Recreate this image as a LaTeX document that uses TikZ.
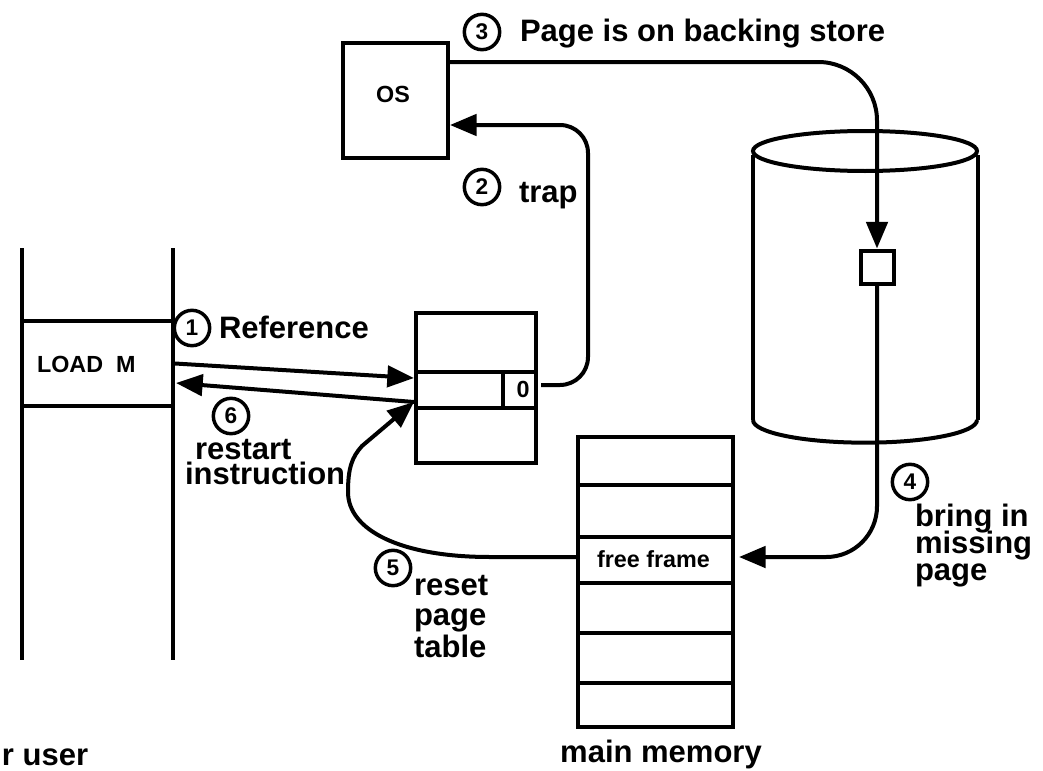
\documentclass[tikz,border=0pt]{standalone}
\usepackage{fontspec}
\setmainfont{Liberation Sans}
\usetikzlibrary{arrows.meta}

\begin{document}
\begin{tikzpicture}[x=0.75pt, y=-0.75pt, line width=3pt,
  big/.style={font=\fontsize{23.25}{24}\selectfont\bfseries, inner sep=0pt},
  small/.style={font=\fontsize{17.5}{18}\selectfont\bfseries, inner sep=0pt},
  num/.style={circle, draw, line width=2.6pt, minimum size=26.5pt, inner sep=0pt,
              font=\fontsize{17}{17}\selectfont\bfseries},
  box/.style={draw, rectangle, inner sep=0pt},
  flow/.style={-{Triangle[length=20pt, width=16pt]}}
]
\useasboundingbox (0,0) rectangle (1043,771);

% program for the user, with the LOAD instruction
\draw (22,248) -- (22,660);
\draw (173,248) -- (173,660);
\node[box, minimum width=113.25pt, minimum height=63.75pt] (load) at (97.5,363.5) {};
\node[small, anchor=base west] (loadtxt) at (35,372) {LOAD\ \ M};
\node[big, anchor=base west] (user) at (0,765) {r user};

% page table
\node[box, minimum width=90pt, minimum height=112.5pt] (pt) at (476,388) {};
\draw (pt.west |- 0,372) -- (pt.east |- 0,372);
\draw (pt.west |- 0,408) -- (pt.east |- 0,408);
\draw (503,372) -- (503,408);
\node[small, anchor=base] (valid) at (523,397) {0};

% operating system
\node[box, minimum width=78.75pt, minimum height=86.25pt] (os) at (395.5,100.5) {};
\node[small, anchor=base] (ostxt) at (393,102) {OS};

% backing store
\draw (865,151) ellipse [x radius=84pt, y radius=15pt];
\draw (753,155) -- (753,420);
\draw (978,155) -- (978,420);
\draw (753,420) arc[start angle=180, end angle=360, x radius=84pt, y radius=17pt];
\node[box, minimum size=24.75pt] (sq) at (877,267) {};

% main memory
\node[box, minimum width=116.25pt, minimum height=217.5pt] (mem) at (655.5,582) {};
\foreach \yy in {485,537,583,633,683}
  \draw (mem.west |- 0,\yy) -- (mem.east |- 0,\yy);
\node[small, anchor=base west] (ff) at (595,567) {free frame};
\node[big, anchor=base] (memtxt) at (661,762) {main memory};

% attachment points
\coordinate (refin) at (414,378);
\coordinate (retout) at (414,402);
\coordinate (retin) at (176,383);
\coordinate (trapout) at (541,385);
\coordinate (ffeast) at (739,557);

% 1: reference
\draw[flow] (load.east) -- (refin);
% 2: trap
\draw[flow, rounded corners=21pt] (trapout) -| (588,125) -- (os.east |- 0,125);
% 3: page is on backing store
\draw[flow, rounded corners=44pt] (os.east |- 0,62) -| (sq.north);
% 4: bring in missing page
\draw[flow, rounded corners=38pt] (sq.south) |- (ffeast);
% 5: reset page table
\draw[flow] (mem.west |- 0,557) -- (490,557)
  .. controls (400,557) and (348,530) .. (348,492)
  .. controls (348,468) and (352,457) .. (362,446) -- (retout);
% 6: restart instruction
\draw[flow] (retout) -- (retin);

% step labels
\node[num] (n1) at (192,328) {1};
\node[big, anchor=base west] (l1) at (217,338) {Reference};
\node[num] (n2) at (482,187) {2};
\node[big, anchor=base west] (l2) at (517,202) {trap};
\node[num] (n3) at (482,32) {3};
\node[big, anchor=base west] (l3) at (518,41) {Page is on backing store};
\node[num] (n4) at (910,482) {4};
\node[big, anchor=base west] (l4a) at (913,526) {bring in};
\node[big, anchor=base west] (l4b) at (913,553) {missing};
\node[big, anchor=base west] (l4c) at (913,580) {page};
\node[num] (n5) at (393,568) {5};
\node[big, anchor=base west] (l5a) at (412,595) {reset};
\node[big, anchor=base west] (l5b) at (412,625) {page};
\node[big, anchor=base west] (l5c) at (412,657) {table};
\node[num] (n6) at (231,416) {6};
\node[big, anchor=base west] (l6a) at (193,459) {restart};
\node[big, anchor=base west] (l6b) at (183,484) {instruction};
\end{tikzpicture}
\end{document}
